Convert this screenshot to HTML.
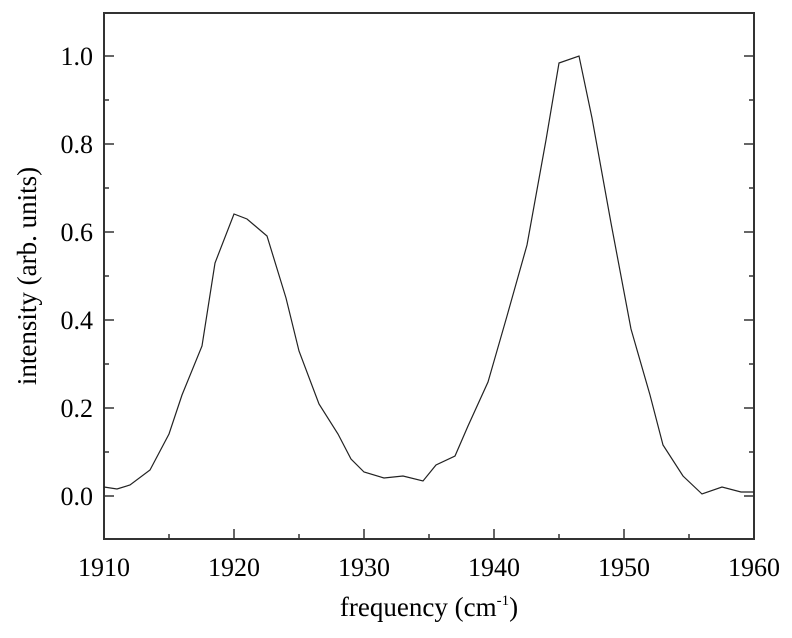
<!DOCTYPE html>
<html><head><style>body{margin:0;background:#fff}</style></head><body>
<svg width="792" height="633" xmlns="http://www.w3.org/2000/svg" font-family="Liberation Serif, serif" fill="#000">
<rect x="104" y="13" width="650" height="526" fill="none" stroke="#333" stroke-width="2"/>
<g stroke="#333" stroke-width="1.5">
<line x1="104" y1="496" x2="114" y2="496"/><line x1="104" y1="408" x2="114" y2="408"/><line x1="104" y1="320" x2="114" y2="320"/><line x1="104" y1="232" x2="114" y2="232"/><line x1="104" y1="144" x2="114" y2="144"/><line x1="104" y1="56" x2="114" y2="56"/>
<line x1="104" y1="452" x2="109" y2="452"/><line x1="104" y1="364" x2="109" y2="364"/><line x1="104" y1="276" x2="109" y2="276"/><line x1="104" y1="188" x2="109" y2="188"/><line x1="104" y1="100" x2="109" y2="100"/>
<line x1="754" y1="496" x2="744" y2="496"/><line x1="754" y1="408" x2="744" y2="408"/><line x1="754" y1="320" x2="744" y2="320"/><line x1="754" y1="232" x2="744" y2="232"/><line x1="754" y1="144" x2="744" y2="144"/><line x1="754" y1="56" x2="744" y2="56"/>
<line x1="754" y1="452" x2="749" y2="452"/><line x1="754" y1="364" x2="749" y2="364"/><line x1="754" y1="276" x2="749" y2="276"/><line x1="754" y1="188" x2="749" y2="188"/><line x1="754" y1="100" x2="749" y2="100"/>
<line x1="234" y1="539" x2="234" y2="529"/><line x1="364" y1="539" x2="364" y2="529"/><line x1="494" y1="539" x2="494" y2="529"/><line x1="624" y1="539" x2="624" y2="529"/>
<line x1="169" y1="539" x2="169" y2="534"/><line x1="299" y1="539" x2="299" y2="534"/><line x1="429" y1="539" x2="429" y2="534"/><line x1="559" y1="539" x2="559" y2="534"/><line x1="689" y1="539" x2="689" y2="534"/>
</g>
<g font-size="26" text-anchor="end">
<text x="93" y="505">0.0</text><text x="93" y="417">0.2</text><text x="93" y="329">0.4</text><text x="93" y="241">0.6</text><text x="93" y="153">0.8</text><text x="93" y="65">1.0</text>
</g>
<g font-size="26" text-anchor="middle">
<text x="104" y="576">1910</text><text x="234" y="576">1920</text><text x="364" y="576">1930</text><text x="494" y="576">1940</text><text x="624" y="576">1950</text><text x="754" y="576">1960</text>
</g>
<text x="429" y="616" font-size="27" text-anchor="middle">frequency (cm<tspan font-size="15" dy="-11">-1</tspan><tspan dy="11">)</tspan></text>
<text transform="translate(36,276) rotate(-90)" font-size="27" text-anchor="middle">intensity (arb. units)</text>
<polyline fill="none" stroke="#222" stroke-width="1.2" points="104,487 117,489 130,485 150,470 169,434 182,395 202,346 215,263 234,214 247,219 267,236 286,298 299,351 319,404 338,434 351,459 364,472 384,478 403,476 423,481 436,465 455,456 468,426 488,382 507,316 527,245 546,140 559,63 579,56 592,118 611,223 631,329 650,395 663,445 683,476 702,494 722,487 741,492 754,492"/>
</svg>
</body></html>
